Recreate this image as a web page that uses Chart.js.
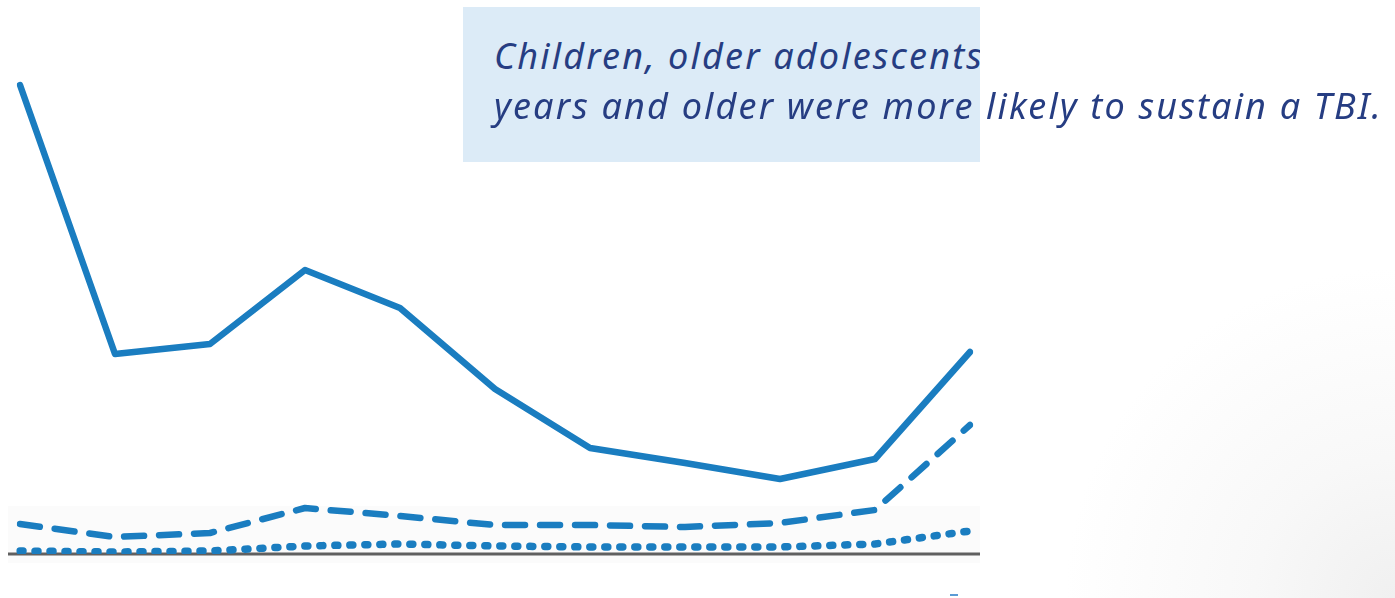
<!DOCTYPE html>
<html>
<head>
<meta charset="utf-8">
<script src="https://cdn.jsdelivr.net/npm/chart.js"></script>
<style>
  html, body { margin: 0; padding: 0; }
  body {
    width: 1395px; height: 598px; overflow: hidden; position: relative;
    background: radial-gradient(circle at 100% 100%, #f0f0f0 0px, #f8f8f8 140px, #ffffff 330px);
  }
  #band { position: absolute; left: 8px; top: 506px; width: 972px; height: 57px; background: #fbfbfb; }
  #wrap { position: absolute; left: 0; top: 0; width: 980px; height: 598px; }
  #note {
    position: absolute; left: 463px; top: 7px; width: 517px; height: 155px;
    background: #dcebf7;
  }
  .line {
    position: absolute; left: 494px; white-space: nowrap;
    font-family: "Noto Sans", sans-serif; font-style: italic;
    font-size: 36px; color: #263d82; line-height: 1;
  }
  #l1 { top: 38px; width: 486px; overflow: hidden; }
  #l2 { top: 88px; }
  #tick { position: absolute; left: 950px; top: 594px; width: 8px; height: 2px; background: #5b9bd5; }
</style>
</head>
<body>
<div id="band"></div>
<div id="wrap"><canvas id="chart" width="980" height="598"></canvas></div>
<div id="note"></div>
<div class="line" id="l1">Children, older adolescents, and adults 65</div>
<div class="line" id="l2">years and older were more likely to sustain a TBI.</div>
<div id="tick"></div>
<script>
// age groups along the x axis (labels not shown in the picture)
var ageGroups = ["0-4", "5-9", "10-14", "15-19", "20-24", "25-34", "35-44", "45-54", "55-64", "65-74", "75+"];
// three series
var seriesSolid  = [469, 200, 210, 284, 246, 165, 106, 91, 75, 95, 202];
var seriesDashed = [30, 17, 21, 46, 38, 29, 29, 27, 31, 44, 129];
var seriesDotted = [3, 2, 3, 8, 10, 8, 7, 7, 7, 10, 23];

var blue = "#1a7dc0";

// grey baseline at zero, a bit wider than the plot
var baseline = {
  id: "baseline",
  beforeDatasetsDraw: function (chart) {
    var y = chart.scales.y.getPixelForValue(0);
    var ctx = chart.ctx;
    ctx.save();
    ctx.strokeStyle = "#606060";
    ctx.lineWidth = 3;
    ctx.beginPath();
    ctx.moveTo(8, y);
    ctx.lineTo(980, y);
    ctx.stroke();
    ctx.restore();
  }
};

function lineSet(label, data, dash, width) {
  return {
    label: label,
    data: data,
    borderColor: blue,
    borderWidth: width,
    borderDash: dash,
    borderCapStyle: "round",
    borderJoinStyle: "round",
    pointRadius: 0,
    tension: 0,
    fill: false
  };
}

var ctx = document.getElementById("chart").getContext("2d");
new Chart(ctx, {
  type: "line",
  data: {
    labels: ageGroups,
    datasets: [
      lineSet("solid", seriesSolid, [], 6.5),
      lineSet("dashed", seriesDashed, [20, 15], 6.5),
      lineSet("dotted", seriesDotted, [3, 12], 7.5)
    ]
  },
  plugins: [baseline],
  options: {
    responsive: false,
    animation: false,
    layout: { padding: { left: 20, right: 10, top: 54, bottom: 44 } },
    plugins: { legend: { display: false }, tooltip: { enabled: false } },
    scales: {
      x: { display: false, offset: false },
      y: { display: false, min: 0, max: 500 }
    }
  }
});

// stretch the caption to the width seen in the picture
(function fitText() {
  var l2 = document.getElementById("l2");
  var l1 = document.getElementById("l1");
  var w = l2.getBoundingClientRect().width;
  var n = l2.textContent.length;
  var ls = (889 - w) / n;
  l2.style.letterSpacing = ls + "px";
  l1.style.letterSpacing = ls + "px";
})();
</script>
</body>
</html>
